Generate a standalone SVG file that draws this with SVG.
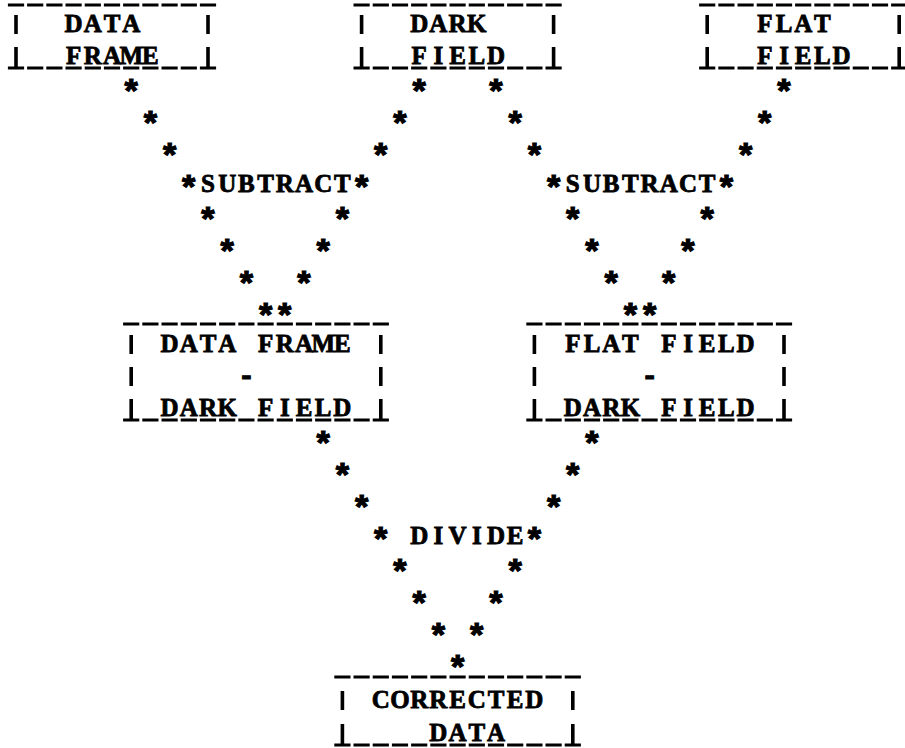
<svg xmlns="http://www.w3.org/2000/svg" width="905" height="748" viewBox="0 0 905 748">
<defs>
<style>
.t{font-family:"Liberation Serif","DejaVu Serif",serif;font-weight:bold;font-size:25px;text-anchor:middle;fill:#000;stroke:#000;stroke-width:0.8px}
.h{font-family:"Liberation Mono","DejaVu Sans Mono",monospace;font-weight:bold;font-size:28px;text-anchor:middle;fill:#000;stroke:#000;stroke-width:1px}
.a{font-family:"Liberation Mono","DejaVu Sans Mono",monospace;font-weight:bold;font-size:34px;text-anchor:middle;fill:#000;stroke:#000;stroke-width:1.2px}
.u{stroke:#000;stroke-width:3;fill:none;stroke-dasharray:16.2 3}
.b{stroke:#000;stroke-width:3.6;fill:none}
</style>
</defs>
<rect width="905" height="748" fill="#fff"/>

<g id="node-data-frame">
<path class="u" d="M7.9 5H217.6M7.9 68H217.6"/>
<path class="b" d="M16 15V34M208 15V34M16 47V68M208 47V68"/>
<text class="t" x="73.6 92.8 112 131.2" y="32.3">DATA</text>
<text class="t" x="73.6 92.8 112 131.2 150.4" y="64.3">FRAME</text>
</g>

<g id="node-dark-field">
<path class="u" d="M353.5 5H563.2M353.5 68H563.2"/>
<path class="b" d="M361.6 15V34M553.6 15V34M361.6 47V68M553.6 47V68"/>
<text class="t" x="419.2 438.4 457.6 476.8" y="32.3">DARK</text>
<text class="t" x="419.2 438.4 457.6 476.8 496" y="64.3">FIELD</text>
</g>

<g id="node-flat-field">
<path class="u" d="M699.1 5H908.8M699.1 68H908.8"/>
<path class="b" d="M707.2 15V34M899.2 15V34M707.2 47V68M899.2 47V68"/>
<text class="t" x="764.8 784 803.2 822.4" y="32.3">FLAT</text>
<text class="t" x="764.8 784 803.2 822.4 841.6" y="64.3">FIELD</text>
</g>

<g id="node-subtract-1">
<text class="t"><tspan class="a" x="188.8" y="199.3">*</tspan><tspan x="208 227.2 246.4 265.6 284.8 304 323.2 342.4" y="192.3">SUBTRACT</tspan><tspan class="a" x="361.6" y="199.3">*</tspan></text>
</g>

<g id="node-subtract-2">
<text class="t"><tspan class="a" x="553.6" y="199.3">*</tspan><tspan x="572.8 592 611.2 630.4 649.6 668.8 688 707.2" y="192.3">SUBTRACT</tspan><tspan class="a" x="726.4" y="199.3">*</tspan></text>
</g>

<g id="node-data-minus-dark">
<path class="u" d="M123.1 324H390.4M123.1 420H390.4"/>
<path class="b" d="M131.2 335V354M380.8 335V354M131.2 367V386M380.8 367V386M131.2 399V420M380.8 399V420"/>
<text class="t" x="169.6 188.8 208 227.2" y="352.3">DATA</text>
<text class="t" x="265.6 284.8 304 323.2 342.4" y="352.3">FRAME</text>
<text class="h" x="246.4" y="384.5">-</text>
<text class="t" x="169.6 188.8 208 227.2" y="416.3">DARK</text>
<text class="t" x="265.6 284.8 304 323.2 342.4" y="416.3">FIELD</text>
</g>

<g id="node-flat-minus-dark">
<path class="u" d="M526.3 324H793.6M526.3 420H793.6"/>
<path class="b" d="M534.4 335V354M784 335V354M534.4 367V386M784 367V386M534.4 399V420M784 399V420"/>
<text class="t" x="572.8 592 611.2 630.4" y="352.3">FLAT</text>
<text class="t" x="668.8 688 707.2 726.4 745.6" y="352.3">FIELD</text>
<text class="h" x="649.6" y="384.5">-</text>
<text class="t" x="572.8 592 611.2 630.4" y="416.3">DARK</text>
<text class="t" x="668.8 688 707.2 726.4 745.6" y="416.3">FIELD</text>
</g>

<g id="node-divide">
<text class="t"><tspan class="a" x="380.8" y="551.3">*</tspan><tspan x="419.2 438.4 457.6 476.8 496 515.2" y="544.3">DIVIDE</tspan><tspan class="a" x="534.4" y="551.3">*</tspan></text>
</g>

<g id="node-corrected-data">
<path class="u" d="M334.3 677H582.4M334.3 745H582.4"/>
<path class="b" d="M342.4 691V710M572.8 691V710M342.4 724V745M572.8 724V745"/>
<text class="t" x="380.8 400 419.2 438.4 457.6 476.8 496 515.2 534.4" y="708.3">CORRECTED</text>
<text class="t" x="438.4 457.6 476.8 496" y="741.3">DATA</text>
</g>

<g id="connectors">
<text class="a" x="131.2 419.2 496 784" y="103.3">****</text>
<text class="a" x="150.4 400 515.2 764.8" y="135.3">****</text>
<text class="a" x="169.6 380.8 534.4 745.6" y="167.3">****</text>
<text class="a" x="208 342.4 572.8 707.2" y="231.3">****</text>
<text class="a" x="227.2 323.2 592 688" y="263.3">****</text>
<text class="a" x="246.4 304 611.2 668.8" y="295.3">****</text>
<text class="a" x="265.6 284.8 630.4 649.6" y="327.3">****</text>
<text class="a" x="323.2 592" y="455.3">**</text>
<text class="a" x="342.4 572.8" y="487.3">**</text>
<text class="a" x="361.6 553.6" y="519.3">**</text>
<text class="a" x="400 515.2" y="583.3">**</text>
<text class="a" x="419.2 496" y="615.3">**</text>
<text class="a" x="438.4 476.8" y="647.3">**</text>
<text class="a" x="457.6" y="679.3">*</text>
</g>
</svg>
